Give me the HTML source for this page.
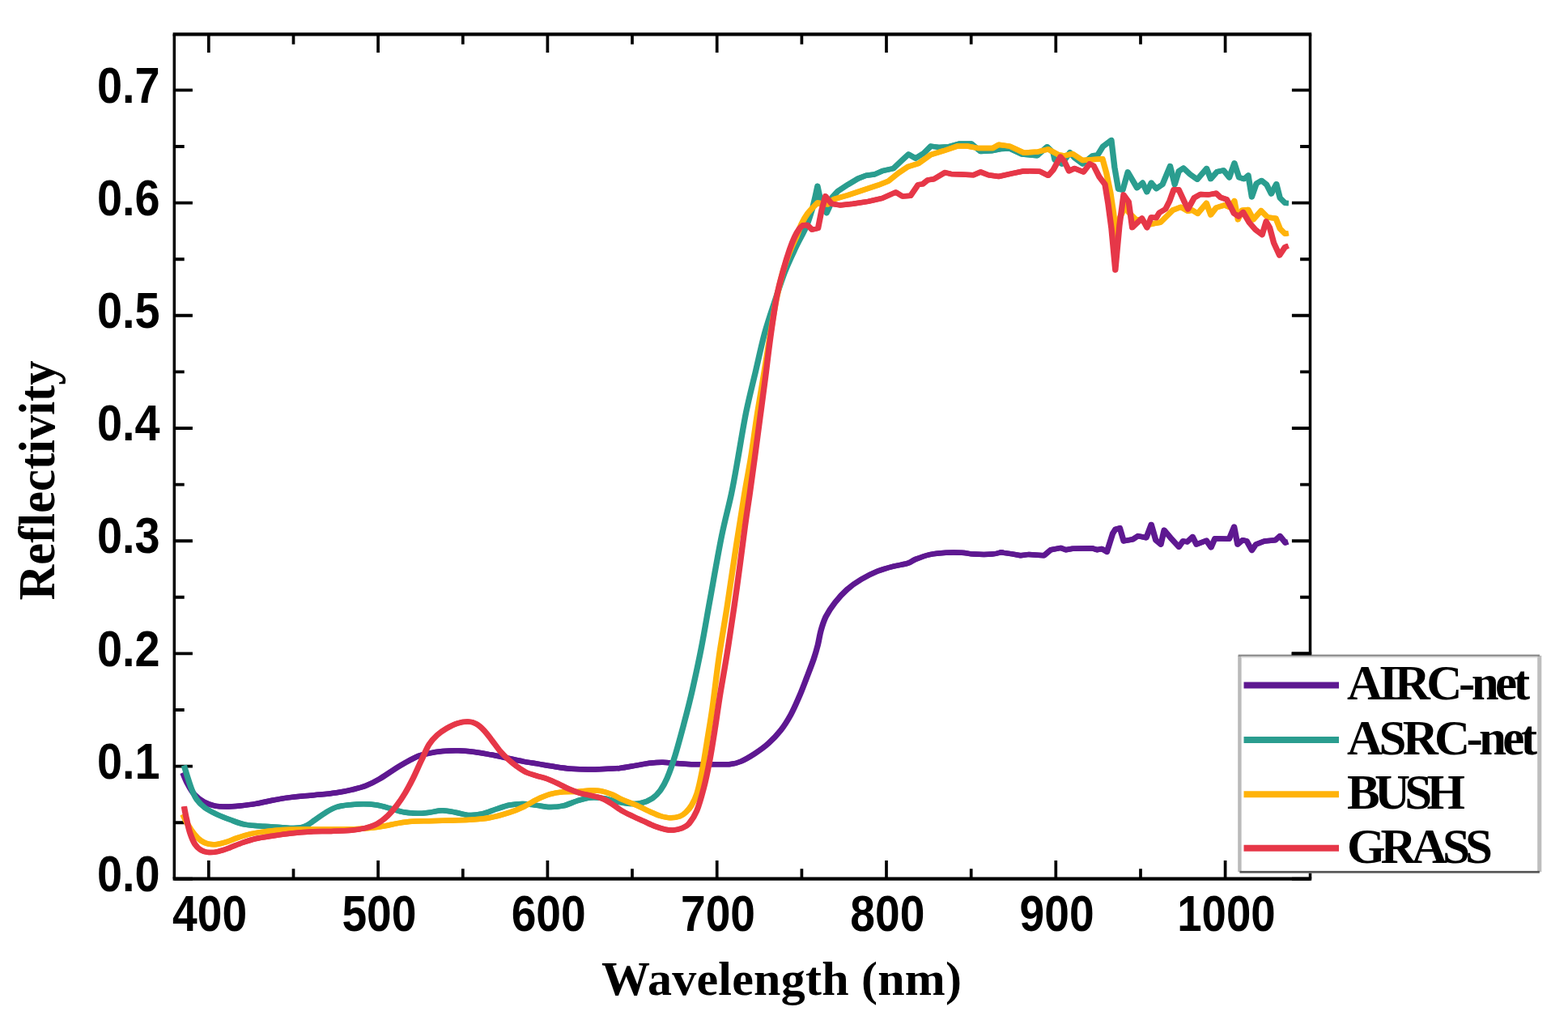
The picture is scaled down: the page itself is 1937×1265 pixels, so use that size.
<!DOCTYPE html>
<html lang="en"><head><meta charset="utf-8"><title>Reflectivity vs Wavelength</title>
<style>
html,body{margin:0;padding:0;background:#fff;}
body{width:1937px;height:1265px;overflow:hidden;}
svg{display:block;}
.tk{font-family:"Liberation Sans",sans-serif;font-weight:700;font-size:63.4px;fill:#000;}
.sf{font-family:"Liberation Serif",serif;font-weight:700;fill:#000;}
</style></head><body>
<svg width="1937" height="1265" viewBox="0 0 1937 1265">
<g>
<rect x="0" y="0" width="1937" height="1265" fill="#fff"/>
<path d="M257.8 1085.6V1063M257.8 42.3V64.9M362.5 1085.6V1073.2M362.5 42.3V54.7M467.1 1085.6V1063M467.1 42.3V64.9M571.8 1085.6V1073.2M571.8 42.3V54.7M676.4 1085.6V1063M676.4 42.3V64.9M781 1085.6V1073.2M781 42.3V54.7M885.7 1085.6V1063M885.7 42.3V64.9M990.4 1085.6V1073.2M990.4 42.3V54.7M1095 1085.6V1063M1095 42.3V64.9M1199.7 1085.6V1073.2M1199.7 42.3V54.7M1304.3 1085.6V1063M1304.3 42.3V64.9M1409 1085.6V1073.2M1409 42.3V54.7M1513.6 1085.6V1063M1513.6 42.3V64.9" stroke="#000" stroke-width="3.7" fill="none"/>
<path d="M215.3 1085.8H237.9M1618.5 1085.8H1595.9M215.3 1016.2H227.7M1618.5 1016.2H1606.1M215.3 946.6H237.9M1618.5 946.6H1595.9M215.3 877H227.7M1618.5 877H1606.1M215.3 807.4H237.9M1618.5 807.4H1595.9M215.3 737.8H227.7M1618.5 737.8H1606.1M215.3 668.2H237.9M1618.5 668.2H1595.9M215.3 598.6H227.7M1618.5 598.6H1606.1M215.3 529H237.9M1618.5 529H1595.9M215.3 459.4H227.7M1618.5 459.4H1606.1M215.3 389.8H237.9M1618.5 389.8H1595.9M215.3 320.2H227.7M1618.5 320.2H1606.1M215.3 250.6H237.9M1618.5 250.6H1595.9M215.3 181H227.7M1618.5 181H1606.1M215.3 111.4H237.9M1618.5 111.4H1595.9" stroke="#000" stroke-width="3.9" fill="none"/>
<path d="M213.6 42.3H1620.2M213.6 1085.6H1620.2" stroke="#000" stroke-width="4.2" fill="none"/>
<path d="M215.3 42.3V1085.6M1618.5 42.3V1085.6" stroke="#000" stroke-width="3.5" fill="none"/>
<g fill="none" stroke="#5e1891" stroke-width="6.5" stroke-linejoin="round" stroke-linecap="butt"><path transform="translate(-0.45 0)" d="M225.8 954.7C226.8 956.9 229.2 963.6 231.6 968C233.9 972.4 236.6 977.5 239.9 981.2C243.2 984.9 247.3 988 251.5 990.4C255.7 992.8 260.1 994.4 264.8 995.4C269.5 996.4 274.4 996.5 279.7 996.5C284.9 996.5 290.2 996 296.3 995.4C302.4 994.8 309.6 994 316.2 992.9C322.8 991.8 329.5 990 336.1 988.7C342.8 987.5 349.5 986.3 356.1 985.4C362.8 984.5 369.4 983.8 376 983.2C382.6 982.6 389.3 982.2 395.9 981.6C402.5 981 409.2 980.3 415.8 979.3C422.4 978.3 429.6 976.9 435.7 975.4C441.8 973.9 446.8 972.7 452.3 970.5C457.8 968.3 463.4 965.4 468.9 962.2C474.4 959 480 954.9 485.5 951.4C491 947.9 496.8 944.3 502.1 941.4C507.4 938.5 512.5 935.7 517.1 933.9C521.8 932.1 525.1 931.6 530 930.6C534.9 929.6 540.5 928.7 546.6 928.1C552.7 927.5 559.9 927.1 566.5 927.3C573.1 927.4 579.8 928.2 586.4 929C593 929.8 599.6 931.1 606.3 932.3C612.9 933.5 619.6 935 626.3 936.4C632.9 937.8 639.6 939.4 646.2 940.6C652.8 941.9 659.5 942.8 666.1 943.9C672.7 945 679.4 946.2 686 947.2C692.6 948.2 699.2 949.2 705.9 949.7C712.5 950.2 719.2 950.5 725.9 950.5C732.5 950.5 739.2 950.3 745.8 950C752.4 949.7 759.1 949.6 765.7 948.9C772.3 948.2 779.5 946.6 785.6 945.6C791.7 944.6 796.7 943.4 802.2 942.7C807.7 942.1 813.3 941.6 818.8 941.7C824.3 941.8 830.2 942.7 835.4 943.1C840.6 943.5 845.2 943.8 850 944C854.8 944.2 858.2 944.2 864.1 944.3C870 944.3 879 944.4 885.4 944.3C891.8 944.2 897.5 944.5 902.5 943.9C907.5 943.3 910.3 942.8 915.3 940.6C920.3 938.5 926.7 934.7 932.4 931C938.1 927.3 944.2 923 949.5 918.2C954.8 913.4 959.8 908.2 964.4 902.3C969 896.4 973.2 889.6 977 882.7C980.8 875.8 983.9 868.4 987.2 860.8C990.5 853.2 993.6 844.8 996.6 837C999.6 829.2 1002.9 820.8 1005.2 814.1C1007.5 807.4 1008.8 802.5 1010.3 796.7C1011.8 790.9 1012.4 785.1 1014 779.3C1015.6 773.5 1017.3 767.6 1020.2 761.8C1023.1 756 1027 750 1031.4 744.4C1035.8 738.8 1041 733 1046.4 728.2C1051.8 723.4 1057.6 719.5 1063.8 715.8C1070 712.1 1077 708.5 1083.7 705.8C1090.4 703.1 1097.5 701.2 1103.7 699.6C1109.9 698 1116.5 697.4 1121.1 695.9C1125.6 694.4 1126.4 692.7 1131 690.9C1135.6 689.1 1142.3 686.5 1148.5 685.1C1154.7 683.7 1161.8 683.1 1168.4 682.7C1175 682.3 1182.5 682.4 1188.3 682.7C1194.1 683 1197 684.3 1203.2 684.6C1209.4 684.9 1220 685 1225.6 684.6C1231.2 684.2 1234.9 682.6 1236.8 682.2L1240 682.9L1250.4 684.4L1260.7 686.2L1271.1 684.9L1289.7 686.2L1298 679.2L1310.4 676.9L1316.6 679.2L1324.9 677.7L1348.8 677.2L1355 679.2L1361.2 677.9L1367.4 681.8L1374.6 659L1377.8 653.9L1383.4 652.3L1388.1 668.4L1399.5 666.3L1405.7 662.1L1416.1 664.2L1422.2 648L1427.8 667.3L1434 672.5L1438.1 654.9L1445.9 664.2L1456.3 675.6L1461.4 668.4L1466.6 669.4L1473.3 663.2L1478 672.5L1490.4 667.8L1496.1 676.1L1500.8 665.3L1518.4 665.8L1524.6 650.8L1528.8 672.5L1535 667.3L1540.1 668.4L1546.4 679.8L1551.5 672.5L1561.9 668.4L1575.4 667.3L1581.1 662.1L1587.8 670.4L1590.9 669.4"/><path transform="translate(0.45 0)" d="M225.8 954.7C226.8 956.9 229.2 963.6 231.6 968C233.9 972.4 236.6 977.5 239.9 981.2C243.2 984.9 247.3 988 251.5 990.4C255.7 992.8 260.1 994.4 264.8 995.4C269.5 996.4 274.4 996.5 279.7 996.5C284.9 996.5 290.2 996 296.3 995.4C302.4 994.8 309.6 994 316.2 992.9C322.8 991.8 329.5 990 336.1 988.7C342.8 987.5 349.5 986.3 356.1 985.4C362.8 984.5 369.4 983.8 376 983.2C382.6 982.6 389.3 982.2 395.9 981.6C402.5 981 409.2 980.3 415.8 979.3C422.4 978.3 429.6 976.9 435.7 975.4C441.8 973.9 446.8 972.7 452.3 970.5C457.8 968.3 463.4 965.4 468.9 962.2C474.4 959 480 954.9 485.5 951.4C491 947.9 496.8 944.3 502.1 941.4C507.4 938.5 512.5 935.7 517.1 933.9C521.8 932.1 525.1 931.6 530 930.6C534.9 929.6 540.5 928.7 546.6 928.1C552.7 927.5 559.9 927.1 566.5 927.3C573.1 927.4 579.8 928.2 586.4 929C593 929.8 599.6 931.1 606.3 932.3C612.9 933.5 619.6 935 626.3 936.4C632.9 937.8 639.6 939.4 646.2 940.6C652.8 941.9 659.5 942.8 666.1 943.9C672.7 945 679.4 946.2 686 947.2C692.6 948.2 699.2 949.2 705.9 949.7C712.5 950.2 719.2 950.5 725.9 950.5C732.5 950.5 739.2 950.3 745.8 950C752.4 949.7 759.1 949.6 765.7 948.9C772.3 948.2 779.5 946.6 785.6 945.6C791.7 944.6 796.7 943.4 802.2 942.7C807.7 942.1 813.3 941.6 818.8 941.7C824.3 941.8 830.2 942.7 835.4 943.1C840.6 943.5 845.2 943.8 850 944C854.8 944.2 858.2 944.2 864.1 944.3C870 944.3 879 944.4 885.4 944.3C891.8 944.2 897.5 944.5 902.5 943.9C907.5 943.3 910.3 942.8 915.3 940.6C920.3 938.5 926.7 934.7 932.4 931C938.1 927.3 944.2 923 949.5 918.2C954.8 913.4 959.8 908.2 964.4 902.3C969 896.4 973.2 889.6 977 882.7C980.8 875.8 983.9 868.4 987.2 860.8C990.5 853.2 993.6 844.8 996.6 837C999.6 829.2 1002.9 820.8 1005.2 814.1C1007.5 807.4 1008.8 802.5 1010.3 796.7C1011.8 790.9 1012.4 785.1 1014 779.3C1015.6 773.5 1017.3 767.6 1020.2 761.8C1023.1 756 1027 750 1031.4 744.4C1035.8 738.8 1041 733 1046.4 728.2C1051.8 723.4 1057.6 719.5 1063.8 715.8C1070 712.1 1077 708.5 1083.7 705.8C1090.4 703.1 1097.5 701.2 1103.7 699.6C1109.9 698 1116.5 697.4 1121.1 695.9C1125.6 694.4 1126.4 692.7 1131 690.9C1135.6 689.1 1142.3 686.5 1148.5 685.1C1154.7 683.7 1161.8 683.1 1168.4 682.7C1175 682.3 1182.5 682.4 1188.3 682.7C1194.1 683 1197 684.3 1203.2 684.6C1209.4 684.9 1220 685 1225.6 684.6C1231.2 684.2 1234.9 682.6 1236.8 682.2L1240 682.9L1250.4 684.4L1260.7 686.2L1271.1 684.9L1289.7 686.2L1298 679.2L1310.4 676.9L1316.6 679.2L1324.9 677.7L1348.8 677.2L1355 679.2L1361.2 677.9L1367.4 681.8L1374.6 659L1377.8 653.9L1383.4 652.3L1388.1 668.4L1399.5 666.3L1405.7 662.1L1416.1 664.2L1422.2 648L1427.8 667.3L1434 672.5L1438.1 654.9L1445.9 664.2L1456.3 675.6L1461.4 668.4L1466.6 669.4L1473.3 663.2L1478 672.5L1490.4 667.8L1496.1 676.1L1500.8 665.3L1518.4 665.8L1524.6 650.8L1528.8 672.5L1535 667.3L1540.1 668.4L1546.4 679.8L1551.5 672.5L1561.9 668.4L1575.4 667.3L1581.1 662.1L1587.8 670.4L1590.9 669.4"/></g>
<g fill="none" stroke="#2a9d8f" stroke-width="6.5" stroke-linejoin="round" stroke-linecap="butt"><path transform="translate(-0.45 0)" d="M227.4 945.6C228.1 948 230.1 954.9 231.6 959.7C233.1 964.5 234.7 969.9 236.6 974.6C238.5 979.3 240.4 984 243.2 987.9C246 991.8 249 994.8 253.2 997.8C257.4 1000.8 262.9 1003.6 268.1 1006.1C273.4 1008.6 278.9 1010.7 284.7 1012.8C290.5 1014.9 296 1017.3 302.9 1018.6C309.8 1019.9 319 1020.2 326.2 1020.7C333.4 1021.2 340 1021.5 346.1 1021.9C352.2 1022.3 357.7 1023.2 362.7 1023.1C367.7 1023 371.6 1022.8 376 1021.1C380.4 1019.4 384.9 1015.7 389.3 1012.8C393.7 1009.9 398.1 1006.3 402.5 1003.7C406.9 1001.1 410.8 998.6 415.8 997C420.8 995.4 426.9 994.8 432.4 994.2C437.9 993.6 443.5 993.2 449 993.2C454.5 993.2 460.1 993.6 465.6 994.5C471.1 995.4 476.7 997.2 482.2 998.7C487.7 1000.2 493.3 1002.2 498.8 1003.2C504.3 1004.2 510.2 1004.7 515.4 1004.8C520.6 1004.9 524.8 1004.3 530 1003.7C535.2 1003.1 541.1 1001.2 546.6 1001.2C552.1 1001.2 557.7 1002.7 563.2 1003.7C568.7 1004.7 574.3 1006.7 579.8 1007C585.3 1007.3 590.9 1006.5 596.4 1005.3C601.9 1004 607.5 1001.3 613 999.5C618.5 997.7 624.1 995.6 629.6 994.5C635.1 993.4 640.7 992.8 646.2 992.9C651.7 993 657.3 994.2 662.8 994.9C668.3 995.6 673.9 996.9 679.4 997C684.9 997.1 690.5 996.6 696 995.4C701.5 994.1 707.1 991.2 712.6 989.5C718.1 987.8 723.7 985.9 729.2 985.4C734.7 984.9 740.3 985.4 745.8 986.2C751.3 987 756.9 989.3 762.4 990.4C767.9 991.5 774 992.6 779 992.9C784 993.2 787.7 993.1 792.2 992C796.7 990.9 802 988.8 805.9 986.2C809.8 983.6 812.8 980.4 815.8 976.3C818.8 972.1 821.1 968.5 824.1 961.3C827.1 954.1 830.6 944.3 834 933.2C837.4 922.1 841.1 908.2 844.7 894.7C848.3 881.2 851.8 867.9 855.4 852C859 836.1 862.9 818.4 866.6 799.2C870.3 780 873.6 759.7 877.8 736.9C881.9 714.1 887.2 683.4 891.5 662.2C895.8 641.1 900.1 626.2 903.5 610C906.9 593.8 908.8 582 911.8 565.1C914.8 548.2 918.2 526.4 921.8 508.7C925.4 491 929.6 474.9 933.4 458.9C937.2 442.8 940.5 426.8 944.4 412.4C948.4 398 952.8 385.3 957 372.6C961.1 359.9 965.2 347.2 969.5 336.1C973.8 325 978.4 315.6 982.8 306.2C987.2 296.8 992.6 287.8 996.1 279.7C999.6 271.6 1002.4 261.1 1003.7 257.4L1007.5 241.2L1009.9 229.9L1013.1 244.9L1017.4 257.4L1021.2 263L1024.9 254.9L1028.1 243.7L1034.9 236.2L1047.4 228.1L1059.9 220.6L1069.9 216.8L1079.9 215.6L1089.9 211.2L1103.6 208.1L1113.6 198.7L1122.3 190.6L1131.1 195.6L1141.1 189.3L1149.8 180.6L1159.8 181.9L1172.3 181.2L1184.8 177.5L1200 177.5L1211.2 186.9L1225 186.2L1236.2 184L1247.4 183.5L1262.4 190.5L1281.2 192.2L1293.6 181.3L1301.1 188.7L1303 197.4L1311.8 202.4L1321.7 188.3L1327.4 194.9L1337.4 202.4L1349.8 192.4L1356.1 191.2L1362.3 181.2L1372.9 173.1L1376.9 207L1381.5 233.5L1387 234.6L1393.2 212.6L1404.6 232L1411.5 225.8L1416.8 237.1L1422.2 225.8L1428.4 233L1436 227.9L1445.5 205.2L1451.2 227.9L1456.2 211.5L1461.9 207.7L1470.2 215.3L1479 221.6L1490.6 208.1L1495.6 221L1503.5 212.2L1511.6 210.4L1518.6 219.2L1524.9 201.5L1530.6 219.2L1536.9 221.1L1542 216.7L1546.4 243.2L1552.1 226.8L1558.4 223L1564.7 228.1L1570.4 239.4L1576.8 227.4L1581.2 244.5L1587.5 250.8L1591.5 251"/><path transform="translate(0.45 0)" d="M227.4 945.6C228.1 948 230.1 954.9 231.6 959.7C233.1 964.5 234.7 969.9 236.6 974.6C238.5 979.3 240.4 984 243.2 987.9C246 991.8 249 994.8 253.2 997.8C257.4 1000.8 262.9 1003.6 268.1 1006.1C273.4 1008.6 278.9 1010.7 284.7 1012.8C290.5 1014.9 296 1017.3 302.9 1018.6C309.8 1019.9 319 1020.2 326.2 1020.7C333.4 1021.2 340 1021.5 346.1 1021.9C352.2 1022.3 357.7 1023.2 362.7 1023.1C367.7 1023 371.6 1022.8 376 1021.1C380.4 1019.4 384.9 1015.7 389.3 1012.8C393.7 1009.9 398.1 1006.3 402.5 1003.7C406.9 1001.1 410.8 998.6 415.8 997C420.8 995.4 426.9 994.8 432.4 994.2C437.9 993.6 443.5 993.2 449 993.2C454.5 993.2 460.1 993.6 465.6 994.5C471.1 995.4 476.7 997.2 482.2 998.7C487.7 1000.2 493.3 1002.2 498.8 1003.2C504.3 1004.2 510.2 1004.7 515.4 1004.8C520.6 1004.9 524.8 1004.3 530 1003.7C535.2 1003.1 541.1 1001.2 546.6 1001.2C552.1 1001.2 557.7 1002.7 563.2 1003.7C568.7 1004.7 574.3 1006.7 579.8 1007C585.3 1007.3 590.9 1006.5 596.4 1005.3C601.9 1004 607.5 1001.3 613 999.5C618.5 997.7 624.1 995.6 629.6 994.5C635.1 993.4 640.7 992.8 646.2 992.9C651.7 993 657.3 994.2 662.8 994.9C668.3 995.6 673.9 996.9 679.4 997C684.9 997.1 690.5 996.6 696 995.4C701.5 994.1 707.1 991.2 712.6 989.5C718.1 987.8 723.7 985.9 729.2 985.4C734.7 984.9 740.3 985.4 745.8 986.2C751.3 987 756.9 989.3 762.4 990.4C767.9 991.5 774 992.6 779 992.9C784 993.2 787.7 993.1 792.2 992C796.7 990.9 802 988.8 805.9 986.2C809.8 983.6 812.8 980.4 815.8 976.3C818.8 972.1 821.1 968.5 824.1 961.3C827.1 954.1 830.6 944.3 834 933.2C837.4 922.1 841.1 908.2 844.7 894.7C848.3 881.2 851.8 867.9 855.4 852C859 836.1 862.9 818.4 866.6 799.2C870.3 780 873.6 759.7 877.8 736.9C881.9 714.1 887.2 683.4 891.5 662.2C895.8 641.1 900.1 626.2 903.5 610C906.9 593.8 908.8 582 911.8 565.1C914.8 548.2 918.2 526.4 921.8 508.7C925.4 491 929.6 474.9 933.4 458.9C937.2 442.8 940.5 426.8 944.4 412.4C948.4 398 952.8 385.3 957 372.6C961.1 359.9 965.2 347.2 969.5 336.1C973.8 325 978.4 315.6 982.8 306.2C987.2 296.8 992.6 287.8 996.1 279.7C999.6 271.6 1002.4 261.1 1003.7 257.4L1007.5 241.2L1009.9 229.9L1013.1 244.9L1017.4 257.4L1021.2 263L1024.9 254.9L1028.1 243.7L1034.9 236.2L1047.4 228.1L1059.9 220.6L1069.9 216.8L1079.9 215.6L1089.9 211.2L1103.6 208.1L1113.6 198.7L1122.3 190.6L1131.1 195.6L1141.1 189.3L1149.8 180.6L1159.8 181.9L1172.3 181.2L1184.8 177.5L1200 177.5L1211.2 186.9L1225 186.2L1236.2 184L1247.4 183.5L1262.4 190.5L1281.2 192.2L1293.6 181.3L1301.1 188.7L1303 197.4L1311.8 202.4L1321.7 188.3L1327.4 194.9L1337.4 202.4L1349.8 192.4L1356.1 191.2L1362.3 181.2L1372.9 173.1L1376.9 207L1381.5 233.5L1387 234.6L1393.2 212.6L1404.6 232L1411.5 225.8L1416.8 237.1L1422.2 225.8L1428.4 233L1436 227.9L1445.5 205.2L1451.2 227.9L1456.2 211.5L1461.9 207.7L1470.2 215.3L1479 221.6L1490.6 208.1L1495.6 221L1503.5 212.2L1511.6 210.4L1518.6 219.2L1524.9 201.5L1530.6 219.2L1536.9 221.1L1542 216.7L1546.4 243.2L1552.1 226.8L1558.4 223L1564.7 228.1L1570.4 239.4L1576.8 227.4L1581.2 244.5L1587.5 250.8L1591.5 251"/></g>
<g fill="none" stroke="#ffb30a" stroke-width="6.5" stroke-linejoin="round" stroke-linecap="butt"><path transform="translate(-0.45 0)" d="M225.8 1006.1C226.8 1008 229.2 1013.8 231.6 1017.8C233.9 1021.8 237.1 1026.8 239.9 1030.2C242.7 1033.7 245.2 1036.4 248.2 1038.5C251.2 1040.6 254.8 1042 258.1 1042.7C261.4 1043.5 264.5 1043.4 268.1 1043C271.7 1042.6 275.6 1041.5 279.7 1040.2C283.8 1038.9 288 1036.9 293 1035.2C298 1033.5 304.1 1031.5 309.6 1030.2C315.1 1028.9 320.1 1028.2 326.2 1027.4C332.3 1026.6 337.8 1025.7 346.1 1025.2C354.4 1024.7 365.5 1024.5 376 1024.4C386.5 1024.3 398.1 1024.5 409.2 1024.4C420.3 1024.4 434.1 1024.4 442.4 1024.1C450.7 1023.8 453.5 1023.4 459 1022.7C464.5 1022.1 470.1 1021.2 475.6 1020.2C481.1 1019.2 486.7 1017.8 492.2 1016.9C497.7 1016 502.5 1015.2 508.8 1014.8C515.1 1014.3 522.3 1014.4 530 1014.2C537.7 1014 546.6 1013.8 554.9 1013.6C563.2 1013.4 571.5 1013.3 579.8 1012.8C588.1 1012.2 596.4 1011.8 604.7 1010.3C613 1008.8 622.7 1005.9 629.6 1003.7C636.5 1001.5 640.7 999.6 646.2 997C651.7 994.4 657.3 990.5 662.8 987.9C668.3 985.3 673.9 982.8 679.4 981.2C684.9 979.6 690.5 978.8 696 978.3C701.5 977.8 707.1 978.2 712.6 977.9C718.1 977.6 724.2 976.7 729.2 976.6C734.2 976.5 738 976.3 742.4 977.1C746.8 977.9 751.3 979.4 755.7 981.2C760.1 983 764 985.7 769 987.9C774 990.1 779.9 992 785.6 994.5C791.3 997 798 1000.5 803.1 1002.8C808.1 1005 811.6 1006.8 815.7 1008C819.9 1009.2 823.8 1010.2 827.8 1010.3C831.8 1010.4 836.4 1009.6 839.7 1008.5C842.9 1007.4 844.9 1005.8 847.3 1003.5C849.7 1001.2 851.9 998.9 854.2 995C856.5 991.1 858.8 987.3 861 980.2C863.2 973.1 865.3 963.4 867.4 952.4C869.5 941.4 871.7 927.2 873.8 914C875.9 900.8 877.8 890.5 880.2 873.4C882.6 856.3 885.2 832.3 888.2 811.6C891.2 790.9 894.7 772.2 898.2 749.4C901.7 726.6 905.8 697.9 909.4 674.7C913 651.5 916.7 628.3 919.7 610C922.7 591.7 924.9 582 927.6 565.1C930.3 548.2 933.1 526.4 935.9 508.7C938.7 491 941.6 474.5 944.2 458.9C946.7 443.3 948.8 429.8 951.3 415C953.8 400.2 956.4 383.2 959 370C961.6 356.8 964.2 346 967 336C969.8 326 973.2 317.3 976 310C978.8 302.7 981.7 297.5 984 292C986.3 286.5 987.8 281.7 990 277C992.2 272.3 994.2 268.4 997.5 264C1000.8 259.6 1007.8 252.8 1009.9 250.5L1022.4 252.4L1029.9 246.2L1047.4 241.2L1066.1 234.9L1084.9 228.7L1097.4 223.7L1109.9 213.7L1121.1 206.2L1134.8 201.8L1149.8 191.2L1166 186.2L1182.3 180.6L1195 180.5L1208.7 183.1L1226.2 183.1L1233.7 178.7L1247.4 180.6L1264.9 188.7L1282.4 187.4L1294.9 184.3L1307.4 191.2L1314.9 192.4L1324.9 189.9L1337.4 198.1L1351.1 197L1362 196.3L1366.8 213.8L1371.8 238L1375.6 263L1378.5 292L1383 270L1390.5 253.2L1394 262L1403.1 271L1410.7 272L1417 278L1425.9 276L1433.5 274.7L1441.1 267.2L1448.7 259.6L1458.8 255.8L1467.6 260.8L1472.7 259.6L1479.5 263.8L1490.3 251L1495.7 265.3L1502.4 256.5L1512.9 253.4L1519 256L1524.9 248.3L1529.3 271.1L1534.4 259.7L1542 259.1L1548.3 271.1L1557.8 260.3L1566 268.5L1576.1 269.8L1581.2 282.5L1587.5 288.8L1591.5 288.1"/><path transform="translate(0.45 0)" d="M225.8 1006.1C226.8 1008 229.2 1013.8 231.6 1017.8C233.9 1021.8 237.1 1026.8 239.9 1030.2C242.7 1033.7 245.2 1036.4 248.2 1038.5C251.2 1040.6 254.8 1042 258.1 1042.7C261.4 1043.5 264.5 1043.4 268.1 1043C271.7 1042.6 275.6 1041.5 279.7 1040.2C283.8 1038.9 288 1036.9 293 1035.2C298 1033.5 304.1 1031.5 309.6 1030.2C315.1 1028.9 320.1 1028.2 326.2 1027.4C332.3 1026.6 337.8 1025.7 346.1 1025.2C354.4 1024.7 365.5 1024.5 376 1024.4C386.5 1024.3 398.1 1024.5 409.2 1024.4C420.3 1024.4 434.1 1024.4 442.4 1024.1C450.7 1023.8 453.5 1023.4 459 1022.7C464.5 1022.1 470.1 1021.2 475.6 1020.2C481.1 1019.2 486.7 1017.8 492.2 1016.9C497.7 1016 502.5 1015.2 508.8 1014.8C515.1 1014.3 522.3 1014.4 530 1014.2C537.7 1014 546.6 1013.8 554.9 1013.6C563.2 1013.4 571.5 1013.3 579.8 1012.8C588.1 1012.2 596.4 1011.8 604.7 1010.3C613 1008.8 622.7 1005.9 629.6 1003.7C636.5 1001.5 640.7 999.6 646.2 997C651.7 994.4 657.3 990.5 662.8 987.9C668.3 985.3 673.9 982.8 679.4 981.2C684.9 979.6 690.5 978.8 696 978.3C701.5 977.8 707.1 978.2 712.6 977.9C718.1 977.6 724.2 976.7 729.2 976.6C734.2 976.5 738 976.3 742.4 977.1C746.8 977.9 751.3 979.4 755.7 981.2C760.1 983 764 985.7 769 987.9C774 990.1 779.9 992 785.6 994.5C791.3 997 798 1000.5 803.1 1002.8C808.1 1005 811.6 1006.8 815.7 1008C819.9 1009.2 823.8 1010.2 827.8 1010.3C831.8 1010.4 836.4 1009.6 839.7 1008.5C842.9 1007.4 844.9 1005.8 847.3 1003.5C849.7 1001.2 851.9 998.9 854.2 995C856.5 991.1 858.8 987.3 861 980.2C863.2 973.1 865.3 963.4 867.4 952.4C869.5 941.4 871.7 927.2 873.8 914C875.9 900.8 877.8 890.5 880.2 873.4C882.6 856.3 885.2 832.3 888.2 811.6C891.2 790.9 894.7 772.2 898.2 749.4C901.7 726.6 905.8 697.9 909.4 674.7C913 651.5 916.7 628.3 919.7 610C922.7 591.7 924.9 582 927.6 565.1C930.3 548.2 933.1 526.4 935.9 508.7C938.7 491 941.6 474.5 944.2 458.9C946.7 443.3 948.8 429.8 951.3 415C953.8 400.2 956.4 383.2 959 370C961.6 356.8 964.2 346 967 336C969.8 326 973.2 317.3 976 310C978.8 302.7 981.7 297.5 984 292C986.3 286.5 987.8 281.7 990 277C992.2 272.3 994.2 268.4 997.5 264C1000.8 259.6 1007.8 252.8 1009.9 250.5L1022.4 252.4L1029.9 246.2L1047.4 241.2L1066.1 234.9L1084.9 228.7L1097.4 223.7L1109.9 213.7L1121.1 206.2L1134.8 201.8L1149.8 191.2L1166 186.2L1182.3 180.6L1195 180.5L1208.7 183.1L1226.2 183.1L1233.7 178.7L1247.4 180.6L1264.9 188.7L1282.4 187.4L1294.9 184.3L1307.4 191.2L1314.9 192.4L1324.9 189.9L1337.4 198.1L1351.1 197L1362 196.3L1366.8 213.8L1371.8 238L1375.6 263L1378.5 292L1383 270L1390.5 253.2L1394 262L1403.1 271L1410.7 272L1417 278L1425.9 276L1433.5 274.7L1441.1 267.2L1448.7 259.6L1458.8 255.8L1467.6 260.8L1472.7 259.6L1479.5 263.8L1490.3 251L1495.7 265.3L1502.4 256.5L1512.9 253.4L1519 256L1524.9 248.3L1529.3 271.1L1534.4 259.7L1542 259.1L1548.3 271.1L1557.8 260.3L1566 268.5L1576.1 269.8L1581.2 282.5L1587.5 288.8L1591.5 288.1"/></g>
<g fill="none" stroke="#e63748" stroke-width="6.5" stroke-linejoin="round" stroke-linecap="butt"><path transform="translate(-0.45 0)" d="M227.4 996.2C227.9 999 229.4 1007.3 230.7 1012.8C231.9 1018.3 233.2 1024.4 234.9 1029.4C236.6 1034.4 238.5 1039.2 240.7 1042.7C242.9 1046.2 245.3 1048.4 248.2 1050.1C251.1 1051.8 254.5 1052.7 258.1 1053C261.7 1053.3 265.7 1052.7 269.8 1051.8C273.9 1050.9 278 1049.4 283 1047.6C288 1045.8 294.1 1042.9 299.6 1041C305.1 1039.1 310.1 1037.4 316.2 1036C322.3 1034.6 328.9 1033.8 336.1 1032.7C343.3 1031.6 351.4 1030.3 359.4 1029.4C367.4 1028.5 376 1027.8 384.3 1027.4C392.6 1027 400.9 1027.2 409.2 1026.9C417.5 1026.6 427.2 1026.3 434.1 1025.7C441 1025.1 445.4 1024.4 450.7 1023.1C455.9 1021.8 460.9 1020.3 465.6 1017.8C470.3 1015.2 474.8 1011.7 478.9 1007.8C483 1003.9 486.9 999.2 490.5 994.5C494.1 989.8 497.2 985.1 500.5 979.6C503.8 974.1 507.1 967.9 510.4 961.3C513.7 954.6 517.1 946.6 520.4 939.7C523.7 932.8 526.7 925 530 919.8C533.3 914.5 536.4 911.5 540 908.2C543.6 904.9 547.5 902.3 551.6 899.9C555.8 897.5 560.5 895 564.9 893.6C569.3 892.2 574.2 891.5 578.1 891.6C582 891.7 584.8 892.3 588.1 894.1C591.4 895.9 594.8 898.9 598.1 902.4C601.4 905.9 604.7 910.6 608 914.9C611.3 919.2 614.7 924.2 618 928.1C621.3 932 624.6 935.1 627.9 938.1C631.2 941.1 634.3 943.8 637.9 946.4C641.5 949 645.4 951.9 649.5 953.9C653.6 955.9 658.4 956.9 662.8 958.3C667.2 959.7 671.7 960.6 676.1 962.2C680.5 963.8 684.9 965.9 689.3 968C693.7 970.1 698.2 972.7 702.6 974.6C707 976.5 711.5 978.3 715.9 979.6C720.3 980.9 724.8 981.6 729.2 982.6C733.6 983.6 738 984.2 742.4 985.9C746.8 987.6 751.3 990.2 755.7 992.9C760.1 995.6 764.6 999.4 769 1002C773.4 1004.6 777.9 1006.5 782.3 1008.6C786.7 1010.7 790.9 1012.5 795.3 1014.5C799.7 1016.5 804.3 1018.9 808.8 1020.6C813.3 1022.3 818.2 1023.9 822.1 1024.7C826 1025.5 828.8 1025.6 832.1 1025.4C835.4 1025.2 838.8 1024.6 842 1023.3C845.2 1022 847.9 1021.1 851.1 1017.5C854.2 1013.9 857.7 1008.8 860.8 1001.5C863.8 994.2 866.6 984 869.3 973.7C872 963.4 874.4 951.7 876.7 939.6C879 927.5 881 914.6 883.1 901.1C885.2 887.6 886.8 875.4 889.5 858.4C892.3 841.4 896 821.5 899.5 799.2C903 776.9 907 749.4 910.5 724.5C914 699.6 917.8 668.9 920.4 649.8C923 630.7 924.2 624.1 926.2 610C928.2 595.9 930.3 580.9 932.4 565.1C934.5 549.3 936.8 532 939 515.4C941.2 498.8 943.5 482.2 945.6 465.6C947.7 449 949.6 432.4 951.9 415.8C954.2 399.2 956.9 379.8 959.6 366C962.3 352.2 965.2 342.5 967.9 332.8C970.5 323.1 973.2 314.6 975.5 308C977.8 301.4 979.5 297.2 981.5 293C983.5 288.8 985.8 284.9 987.5 282.5C989.2 280.1 991.2 279 992 278.3L997.5 278L1003.1 283.6L1010.6 281.8L1014.9 259.9L1019.7 242.4L1027.4 251.8L1037.4 253.4L1053.7 251.8L1072.4 248.9L1089.9 244.9L1106.7 237.4L1114.8 242.4L1124.8 241.8L1134.2 228.1L1139.8 227.4L1146.1 222.4L1153.6 221.2L1167.3 213.1L1174.8 214.9L1188.5 215.6L1202.5 216.2L1211.2 212.4L1221.2 216.2L1233.7 218L1249.9 214.3L1264.9 211.2L1284.9 211.8L1294.9 216.8L1301.1 209.9L1309.9 193.7L1314.9 199.3L1320.5 211.2L1327.4 208L1338.6 212.4L1346.1 202.4L1351.1 204.9L1358 218.5L1365 227.7L1368.8 250.9L1373 282.4L1377.8 333.5L1382.9 278.5L1388 240.6L1394.3 249.4L1398.7 281.1L1410.7 269.7L1417 281.1L1422.1 268.4L1428.4 269.1L1432.2 262.7L1439.8 258.3L1444.9 248.2L1449.9 234.3L1456.2 234.3L1462.6 248.2L1467.6 258.3L1475.2 244.4L1482.8 240L1492.4 240.6L1502.5 238.8L1507.8 243.9L1515.4 246.4L1520.5 255.9L1524.3 263.5L1530 267.3L1535.7 262.2L1543.2 274.9L1550.8 283.7L1559.1 290L1564.1 273.6L1568.5 281.2L1573.6 300.2L1580.6 315.3L1587.5 305.2L1591.3 303.8"/><path transform="translate(0.45 0)" d="M227.4 996.2C227.9 999 229.4 1007.3 230.7 1012.8C231.9 1018.3 233.2 1024.4 234.9 1029.4C236.6 1034.4 238.5 1039.2 240.7 1042.7C242.9 1046.2 245.3 1048.4 248.2 1050.1C251.1 1051.8 254.5 1052.7 258.1 1053C261.7 1053.3 265.7 1052.7 269.8 1051.8C273.9 1050.9 278 1049.4 283 1047.6C288 1045.8 294.1 1042.9 299.6 1041C305.1 1039.1 310.1 1037.4 316.2 1036C322.3 1034.6 328.9 1033.8 336.1 1032.7C343.3 1031.6 351.4 1030.3 359.4 1029.4C367.4 1028.5 376 1027.8 384.3 1027.4C392.6 1027 400.9 1027.2 409.2 1026.9C417.5 1026.6 427.2 1026.3 434.1 1025.7C441 1025.1 445.4 1024.4 450.7 1023.1C455.9 1021.8 460.9 1020.3 465.6 1017.8C470.3 1015.2 474.8 1011.7 478.9 1007.8C483 1003.9 486.9 999.2 490.5 994.5C494.1 989.8 497.2 985.1 500.5 979.6C503.8 974.1 507.1 967.9 510.4 961.3C513.7 954.6 517.1 946.6 520.4 939.7C523.7 932.8 526.7 925 530 919.8C533.3 914.5 536.4 911.5 540 908.2C543.6 904.9 547.5 902.3 551.6 899.9C555.8 897.5 560.5 895 564.9 893.6C569.3 892.2 574.2 891.5 578.1 891.6C582 891.7 584.8 892.3 588.1 894.1C591.4 895.9 594.8 898.9 598.1 902.4C601.4 905.9 604.7 910.6 608 914.9C611.3 919.2 614.7 924.2 618 928.1C621.3 932 624.6 935.1 627.9 938.1C631.2 941.1 634.3 943.8 637.9 946.4C641.5 949 645.4 951.9 649.5 953.9C653.6 955.9 658.4 956.9 662.8 958.3C667.2 959.7 671.7 960.6 676.1 962.2C680.5 963.8 684.9 965.9 689.3 968C693.7 970.1 698.2 972.7 702.6 974.6C707 976.5 711.5 978.3 715.9 979.6C720.3 980.9 724.8 981.6 729.2 982.6C733.6 983.6 738 984.2 742.4 985.9C746.8 987.6 751.3 990.2 755.7 992.9C760.1 995.6 764.6 999.4 769 1002C773.4 1004.6 777.9 1006.5 782.3 1008.6C786.7 1010.7 790.9 1012.5 795.3 1014.5C799.7 1016.5 804.3 1018.9 808.8 1020.6C813.3 1022.3 818.2 1023.9 822.1 1024.7C826 1025.5 828.8 1025.6 832.1 1025.4C835.4 1025.2 838.8 1024.6 842 1023.3C845.2 1022 847.9 1021.1 851.1 1017.5C854.2 1013.9 857.7 1008.8 860.8 1001.5C863.8 994.2 866.6 984 869.3 973.7C872 963.4 874.4 951.7 876.7 939.6C879 927.5 881 914.6 883.1 901.1C885.2 887.6 886.8 875.4 889.5 858.4C892.3 841.4 896 821.5 899.5 799.2C903 776.9 907 749.4 910.5 724.5C914 699.6 917.8 668.9 920.4 649.8C923 630.7 924.2 624.1 926.2 610C928.2 595.9 930.3 580.9 932.4 565.1C934.5 549.3 936.8 532 939 515.4C941.2 498.8 943.5 482.2 945.6 465.6C947.7 449 949.6 432.4 951.9 415.8C954.2 399.2 956.9 379.8 959.6 366C962.3 352.2 965.2 342.5 967.9 332.8C970.5 323.1 973.2 314.6 975.5 308C977.8 301.4 979.5 297.2 981.5 293C983.5 288.8 985.8 284.9 987.5 282.5C989.2 280.1 991.2 279 992 278.3L997.5 278L1003.1 283.6L1010.6 281.8L1014.9 259.9L1019.7 242.4L1027.4 251.8L1037.4 253.4L1053.7 251.8L1072.4 248.9L1089.9 244.9L1106.7 237.4L1114.8 242.4L1124.8 241.8L1134.2 228.1L1139.8 227.4L1146.1 222.4L1153.6 221.2L1167.3 213.1L1174.8 214.9L1188.5 215.6L1202.5 216.2L1211.2 212.4L1221.2 216.2L1233.7 218L1249.9 214.3L1264.9 211.2L1284.9 211.8L1294.9 216.8L1301.1 209.9L1309.9 193.7L1314.9 199.3L1320.5 211.2L1327.4 208L1338.6 212.4L1346.1 202.4L1351.1 204.9L1358 218.5L1365 227.7L1368.8 250.9L1373 282.4L1377.8 333.5L1382.9 278.5L1388 240.6L1394.3 249.4L1398.7 281.1L1410.7 269.7L1417 281.1L1422.1 268.4L1428.4 269.1L1432.2 262.7L1439.8 258.3L1444.9 248.2L1449.9 234.3L1456.2 234.3L1462.6 248.2L1467.6 258.3L1475.2 244.4L1482.8 240L1492.4 240.6L1502.5 238.8L1507.8 243.9L1515.4 246.4L1520.5 255.9L1524.3 263.5L1530 267.3L1535.7 262.2L1543.2 274.9L1550.8 283.7L1559.1 290L1564.1 273.6L1568.5 281.2L1573.6 300.2L1580.6 315.3L1587.5 305.2L1591.3 303.8"/></g>
<text class="tk" x="197.5" y="1100.9" text-anchor="end" textLength="77.6" lengthAdjust="spacingAndGlyphs">0.0</text>
<text class="tk" x="197.5" y="961.7" text-anchor="end" textLength="77.6" lengthAdjust="spacingAndGlyphs">0.1</text>
<text class="tk" x="197.5" y="822.5" text-anchor="end" textLength="77.6" lengthAdjust="spacingAndGlyphs">0.2</text>
<text class="tk" x="197.5" y="683.3" text-anchor="end" textLength="77.6" lengthAdjust="spacingAndGlyphs">0.3</text>
<text class="tk" x="197.5" y="544.1" text-anchor="end" textLength="77.6" lengthAdjust="spacingAndGlyphs">0.4</text>
<text class="tk" x="197.5" y="404.9" text-anchor="end" textLength="77.6" lengthAdjust="spacingAndGlyphs">0.5</text>
<text class="tk" x="197.5" y="265.7" text-anchor="end" textLength="77.6" lengthAdjust="spacingAndGlyphs">0.6</text>
<text class="tk" x="197.5" y="126.5" text-anchor="end" textLength="77.6" lengthAdjust="spacingAndGlyphs">0.7</text>
<text class="tk" x="259.1" y="1149.6" text-anchor="middle" textLength="92" lengthAdjust="spacingAndGlyphs">400</text>
<text class="tk" x="468.4" y="1149.6" text-anchor="middle" textLength="92" lengthAdjust="spacingAndGlyphs">500</text>
<text class="tk" x="677.7" y="1149.6" text-anchor="middle" textLength="92" lengthAdjust="spacingAndGlyphs">600</text>
<text class="tk" x="887" y="1149.6" text-anchor="middle" textLength="92" lengthAdjust="spacingAndGlyphs">700</text>
<text class="tk" x="1096.3" y="1149.6" text-anchor="middle" textLength="92" lengthAdjust="spacingAndGlyphs">800</text>
<text class="tk" x="1305.6" y="1149.6" text-anchor="middle" textLength="92" lengthAdjust="spacingAndGlyphs">900</text>
<text class="tk" x="1514.9" y="1149.6" text-anchor="middle" textLength="121.5" lengthAdjust="spacingAndGlyphs">1000</text>
<text class="sf" font-size="60" x="965.5" y="1229" text-anchor="middle" textLength="445" lengthAdjust="spacing">Wavelength (nm)</text>
<text class="sf" font-size="63.5" transform="translate(66.5 593.5) rotate(-90)" text-anchor="middle" textLength="296" lengthAdjust="spacingAndGlyphs">Reflectivity</text>
<rect x="1529.2" y="808.6" width="375" height="270" fill="#fff"/>
<rect x="1529.2" y="810" width="4.4" height="267" fill="#bababa"/>
<rect x="1899.2" y="810" width="5.1" height="267" fill="#bebebe"/>
<rect x="1529.6" y="808.6" width="372.4" height="2.3" fill="#8a8a8a"/>
<rect x="1533.6" y="810.9" width="365.6" height="1.9" fill="#dedede"/>
<rect x="1531.4" y="1075.9" width="370.5" height="2.7" fill="#555"/>
<path d="M1595.5 807.4H1620.2" stroke="#000" stroke-width="3.9" fill="none"/>
<path d="M1536.5 846.6H1654" stroke="#5e1891" stroke-width="8" fill="none"/>
<text class="sf" font-size="61" x="1664" y="864.4" textLength="226" lengthAdjust="spacing">AIRC-net</text>
<path d="M1536.5 914H1654" stroke="#2a9d8f" stroke-width="8" fill="none"/>
<text class="sf" font-size="61" x="1664" y="931.8" textLength="235" lengthAdjust="spacing">ASRC-net</text>
<path d="M1536.5 981.2H1654" stroke="#ffb30a" stroke-width="8" fill="none"/>
<text class="sf" font-size="61" x="1664" y="999" textLength="146" lengthAdjust="spacing">BUSH</text>
<path d="M1536.5 1047.8H1654" stroke="#e63748" stroke-width="8" fill="none"/>
<text class="sf" font-size="61" x="1664" y="1065.6" textLength="180" lengthAdjust="spacing">GRASS</text>
</g>
</svg></body></html>
